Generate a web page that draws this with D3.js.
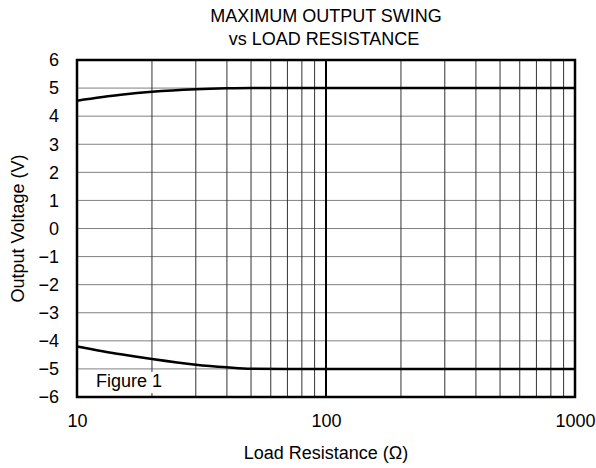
<!DOCTYPE html>
<html>
<head>
<meta charset="utf-8">
<script src="https://cdn.jsdelivr.net/npm/d3@7"></script>
<style>
  body { margin: 0; background: #fff; }
  text { font-family: "Liberation Sans", Arial, sans-serif; fill: #000; }
</style>
</head>
<body>
<svg id="chart" width="596" height="468"></svg>
<script>
// data
const resistance = [10, 15, 20, 30, 40, 50, 70, 100, 1000];
const swingHigh = [4.55, 4.76, 4.87, 4.96, 4.99, 5.0, 5.0, 5.0, 5.0];
const swingLow = [-4.2, -4.48, -4.65, -4.85, -4.94, -4.99, -5.0, -5.0, -5.0];
const xTicks = [10, 100, 1000];
const yTicks = [-6, -5, -4, -3, -2, -1, 0, 1, 2, 3, 4, 5, 6];

const fontSize = "18px";
const svg = d3.select("#chart");
const margin = {top: 60, right: 21, bottom: 71, left: 77};
const width = 596 - margin.left - margin.right,
      height = 468 - margin.top - margin.bottom;

const g = svg.append("g")
    .attr("transform", `translate(${margin.left},${margin.top})`);

const x = d3.scaleLog().domain([10, 1000]).range([0, width]);
const y = d3.scaleLinear().domain([-6, 6]).range([height, 0]);

// horizontal grid
g.append("g")
    .selectAll("line")
    .data(yTicks)
    .join("line")
    .attr("x1", 0).attr("x2", width)
    .attr("y1", d => y(d)).attr("y2", d => y(d))
    .attr("stroke", "#808080")
    .attr("stroke-width", 1);

// vertical grid (minor decades)
const minor = [];
[10, 100].forEach(dec => {
    for (let i = 2; i <= 9; i++) minor.push(dec * i);
});
g.append("g")
    .selectAll("line")
    .data(minor)
    .join("line")
    .attr("x1", d => x(d)).attr("x2", d => x(d))
    .attr("y1", 0).attr("y2", height)
    .attr("stroke", "#333")
    .attr("stroke-width", 1);

// decade line at 100
g.append("line")
    .attr("x1", x(100)).attr("x2", x(100))
    .attr("y1", 0).attr("y2", height)
    .attr("stroke", "#000")
    .attr("stroke-width", 2);

// curves
const line = d3.line()
    .x((d, i) => x(resistance[i]))
    .y(d => y(d))
    .curve(d3.curveMonotoneX);

[swingHigh, swingLow].forEach(s => {
    g.append("path")
        .attr("d", line(s))
        .attr("fill", "none")
        .attr("stroke", "#000")
        .attr("stroke-width", 2.5);
});

// figure label
g.append("rect")
    .attr("x", 16).attr("y", height - 25)
    .attr("width", 74).attr("height", 21)
    .attr("fill", "#fff");
g.append("text")
    .attr("x", 19).attr("y", height - 10)
    .attr("font-size", fontSize)
    .text("Figure 1");

// frame
g.append("rect")
    .attr("width", width).attr("height", height)
    .attr("fill", "none")
    .attr("stroke", "#000")
    .attr("stroke-width", 2.5);

// axes (labels only)
const yAxis = g.append("g")
    .call(d3.axisLeft(y).tickValues(yTicks).tickSize(0).tickPadding(18));
yAxis.select(".domain").remove();
yAxis.selectAll("text")
    .attr("font-size", fontSize)
    .style("font-family", "'Liberation Sans', Arial, sans-serif");

const xAxis = g.append("g")
    .attr("transform", `translate(0,${height})`)
    .call(d3.axisBottom(x).tickValues(xTicks).tickFormat(d3.format("d")).tickSize(0).tickPadding(17));
xAxis.select(".domain").remove();
xAxis.selectAll("text")
    .attr("font-size", fontSize)
    .style("font-family", "'Liberation Sans', Arial, sans-serif");

// titles
svg.append("text")
    .attr("x", margin.left + width / 2).attr("y", 22)
    .attr("text-anchor", "middle")
    .attr("font-size", fontSize)
    .text("MAXIMUM OUTPUT SWING");
svg.append("text")
    .attr("x", margin.left + width / 2 - 2).attr("y", 45)
    .attr("text-anchor", "middle")
    .attr("font-size", fontSize)
    .text("vs LOAD RESISTANCE");

svg.append("text")
    .attr("x", margin.left + width / 2).attr("y", 459)
    .attr("text-anchor", "middle")
    .attr("font-size", fontSize)
    .text("Load Resistance (Ω)");

svg.append("text")
    .attr("transform", `translate(24,${margin.top + height / 2}) rotate(-90)`)
    .attr("text-anchor", "middle")
    .attr("font-size", fontSize)
    .text("Output Voltage (V)");
</script>
</body>
</html>
